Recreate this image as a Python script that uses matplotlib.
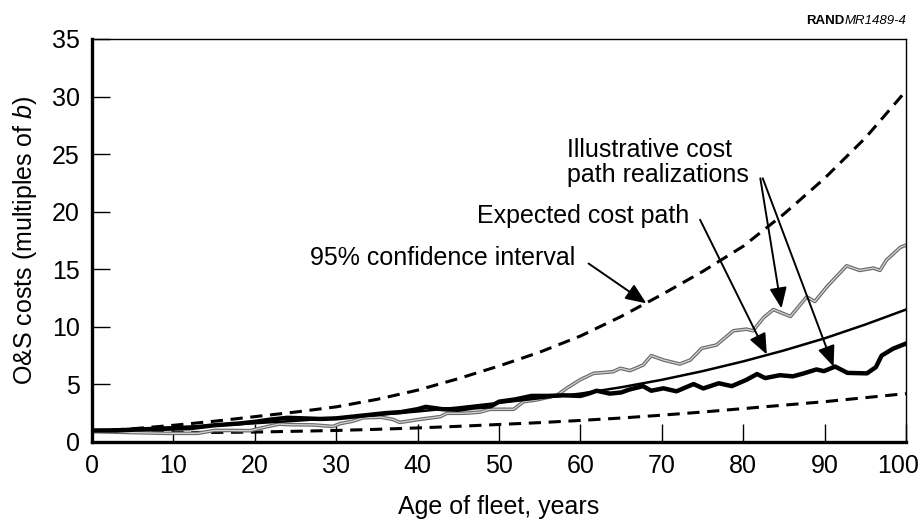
import matplotlib
matplotlib.use("Agg")
import matplotlib.pyplot as plt
from matplotlib.transforms import ScaledTranslation

plt.rcParams['font.family'] = ['Liberation Sans', 'DejaVu Sans']
plt.rcParams['mathtext.fontset'] = 'custom'
plt.rcParams['mathtext.rm'] = 'Liberation Sans'
plt.rcParams['mathtext.it'] = 'Liberation Sans:italic'

# ---- data ----
ci_age = [0, 5, 10, 15, 20, 25, 30, 35, 40, 45, 50, 55, 60, 65, 70, 75, 80, 85, 90, 95, 100]
ci_upper = [0.95, 1.15, 1.45, 1.8, 2.2, 2.6, 3.05, 3.7, 4.5, 5.5, 6.6, 7.8, 9.2, 10.9,
            12.8, 14.8, 17.0, 19.8, 22.9, 26.4, 30.5]
ci_lower = [1.0, 0.88, 0.83, 0.83, 0.86, 0.93, 1.0, 1.1, 1.22, 1.36, 1.52, 1.68, 1.87,
            2.08, 2.33, 2.6, 2.9, 3.2, 3.5, 3.85, 4.2]
expected = [1.0, 1.13, 1.28, 1.44, 1.63, 1.84, 2.08, 2.35, 2.65, 3.0, 3.4, 3.8, 4.2,
            4.75, 5.4, 6.15, 7.0, 7.95, 9.0, 10.2, 11.5]

path_a_age = [0, 3, 6, 9, 12, 15, 18, 20, 22, 24, 26, 28, 30, 32, 34, 36, 38, 40, 41, 43,
              45, 47, 49, 50, 52, 54, 56, 58, 60, 61, 62, 63.6, 65, 66, 67.7, 68.7, 70.2,
              71.8, 73.9, 75.1, 77, 78.6, 80.4, 81.7, 82.7, 84.5, 86.1, 87.4, 89, 89.9,
              91.3, 92.8, 95.2, 96.3, 97, 98.4, 100]
path_a = [1.0, 1.0, 1.1, 1.15, 1.2, 1.45, 1.6, 1.75, 1.95, 2.1, 2.05, 2.0, 2.05, 2.2, 2.35,
          2.5, 2.6, 2.85, 3.05, 2.85, 2.8, 3.0, 3.1, 3.5, 3.7, 4.0, 4.0, 4.05, 4.0, 4.2,
          4.45, 4.2, 4.3, 4.55, 4.85, 4.45, 4.66, 4.4, 5.03, 4.65, 5.1, 4.85, 5.4, 5.9,
          5.55, 5.8, 5.7, 5.95, 6.3, 6.15, 6.55, 6.0, 5.96, 6.5, 7.5, 8.1, 8.55]

path_b_age = [0, 3, 6, 9, 13, 15, 17, 19.4, 21.5, 23, 24.5, 27.2, 29.6, 30.5, 32, 33.3,
              35.5, 37, 37.8, 40.3, 42.8, 43.6, 46, 47.7, 48.9, 51.8, 53, 54.6, 57.1,
              58.3, 59.9, 61.6, 64, 64.9, 66.1, 67.7, 68.7, 70.2, 72.2, 73.5, 74.9, 76.7,
              78.8, 80.4, 81.2, 82.5, 83.7, 85.8, 87.8, 88.8, 90.3, 92.7, 94.3, 96, 96.8,
              97.6, 99.3, 100]
path_b = [0.9, 0.85, 0.8, 0.75, 0.75, 1.0, 1.0, 0.98, 1.33, 1.55, 1.5, 1.48, 1.35, 1.6,
          1.8, 2.1, 2.15, 1.95, 1.7, 1.97, 2.2, 2.49, 2.5, 2.6, 2.84, 2.84, 3.5, 3.65,
          4.05, 4.66, 5.38, 5.96, 6.1, 6.4, 6.2, 6.68, 7.5, 7.12, 6.77, 7.12, 8.13, 8.42,
          9.66, 9.8, 9.66, 10.8, 11.5, 10.9, 12.6, 12.2, 13.5, 15.3, 14.9, 15.1, 14.9,
          15.8, 16.9, 17.1]

x_ticks = [0, 10, 20, 30, 40, 50, 60, 70, 80, 90, 100]
y_ticks = [0, 5, 10, 15, 20, 25, 30, 35]

# ---- figure ----
fig = plt.figure(figsize=(9.23, 5.19), dpi=100)
ax = fig.add_axes([0.0997, 0.1484, 0.8819, 0.7765])

ax.plot(ci_age, ci_upper, color='black', lw=2.2, dashes=(4, 2.5))
ax.plot(ci_age, ci_lower, color='black', lw=2.2, dashes=(4, 2.5))
ax.plot(path_b_age, path_b, color='#6a6a6a', lw=2.6)
ax.plot(path_b_age, path_b, color='#d4d4d4', lw=0.9)
ax.plot(path_a_age, path_a, color='black', lw=3.2)
ax.plot(ci_age, expected, color='black', lw=1.8)

ax.set_xlim(0, 100)
ax.set_ylim(0, 35)
ax.set_xticks(x_ticks)
ax.set_yticks(y_ticks)
ax.tick_params(direction='in', length=13, width=1.0, labelsize=18, color='black')
ax.tick_params(axis='x', pad=9)
ax.tick_params(axis='y', pad=9)
for s in ('left', 'bottom'):
    ax.spines[s].set_linewidth(2.4)
for s in ('top', 'right'):
    ax.spines[s].set_linewidth(1.0)

# the last x tick label sits slightly left of its tick, as in the reference
last = ax.get_xticklabels()[-1]
last.set_transform(last.get_transform() + ScaledTranslation(-0.08, 0, fig.dpi_scale_trans))

ax.set_xlabel('Age of fleet, years', fontsize=18, labelpad=12)
ax.set_ylabel('O&S costs (multiples of $\\mathit{b}$)', fontsize=18, labelpad=9)

arrow_kw = dict(arrowstyle='-|>,head_length=0.6,head_width=0.25', color='black',
                lw=1.4, mutation_scale=21, shrinkA=0, shrinkB=0)

ax.text(26.8, 16.0, '95% confidence interval', fontsize=18, ha='left', va='center')
ax.annotate('', xy=(68.1, 12.04), xytext=(61.0, 15.5), arrowprops=arrow_kw)

ax.text(47.3, 19.6, 'Expected cost path', fontsize=18, ha='left', va='center')
ax.annotate('', xy=(82.9, 7.6), xytext=(74.7, 19.3), arrowprops=arrow_kw)

ax.text(58.3, 24.3, 'Illustrative cost\npath realizations', fontsize=18, ha='left',
        va='center', linespacing=1.05)
ax.annotate('', xy=(84.7, 11.6), xytext=(82.1, 22.9), arrowprops=arrow_kw)
ax.annotate('', xy=(91.1, 6.54), xytext=(82.4, 22.9), arrowprops=arrow_kw)

t_it = fig.text(906 / 923, 1 - 21 / 519, 'MR1489-4', fontsize=9.5, style='italic',
                ha='right', va='center')
ax.annotate('RAND', xy=(0, 0.5), xycoords=t_it, ha='right', va='center',
            fontsize=9.5, fontweight='bold')

fig.savefig('out.png', dpi=100)
